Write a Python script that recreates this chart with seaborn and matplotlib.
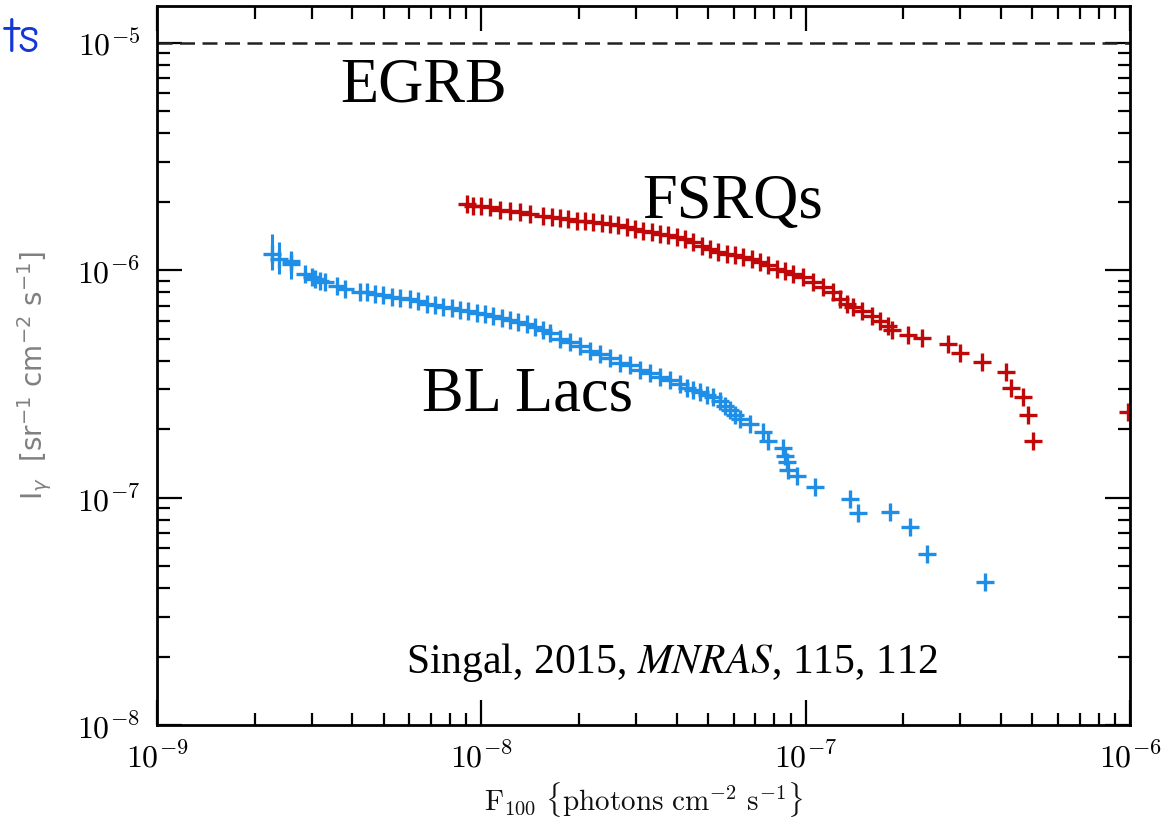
import numpy as np
import pandas as pd
import matplotlib
matplotlib.use("Agg")
import matplotlib.pyplot as plt
import seaborn as sns

# ---------------- data ----------------
bl_flux = [2.26e-9, 2.38e-9, 2.59e-9, 2.59e-9, 2.86e-9, 3.00e-9, 3.07e-9, 3.18e-9, 3.30e-9,
           3.59e-9, 3.80e-9, 4.23e-9, 4.44e-9, 4.70e-9, 4.98e-9, 5.30e-9, 5.61e-9, 6.03e-9,
           6.38e-9, 6.80e-9, 7.20e-9, 7.62e-9, 8.12e-9, 8.60e-9, 9.10e-9, 9.70e-9, 1.026e-8,
           1.087e-8, 1.158e-8, 1.226e-8, 1.298e-8, 1.383e-8, 1.464e-8, 1.549e-8, 1.629e-8,
           1.749e-8, 1.877e-8, 2.016e-8, 2.164e-8, 2.32e-8, 2.49e-8, 2.677e-8, 2.874e-8,
           3.084e-8, 3.31e-8, 3.556e-8, 3.82e-8, 4.10e-8, 4.31e-8, 4.50e-8, 4.72e-8, 4.97e-8,
           5.18e-8, 5.45e-8, 5.64e-8, 5.85e-8, 6.06e-8, 6.28e-8, 6.74e-8, 7.39e-8, 7.66e-8,
           8.51e-8, 8.64e-8, 8.76e-8, 8.82e-8, 9.41e-8, 1.069e-7, 1.371e-7, 1.451e-7, 1.82e-7,
           2.10e-7, 2.37e-7, 3.57e-7]
bl_int = [1.176e-6, 1.118e-6, 1.063e-6, 1.10e-6, 9.60e-7, 9.31e-7, 9.13e-7, 8.95e-7, 8.85e-7,
          8.50e-7, 8.25e-7, 8.00e-7, 8.00e-7, 7.84e-7, 7.76e-7, 7.60e-7, 7.53e-7, 7.45e-7,
          7.30e-7, 7.08e-7, 7.01e-7, 6.87e-7, 6.80e-7, 6.67e-7, 6.60e-7, 6.47e-7, 6.40e-7,
          6.27e-7, 6.15e-7, 6.02e-7, 5.90e-7, 5.78e-7, 5.61e-7, 5.44e-7, 5.28e-7,
          4.97e-7, 4.82e-7, 4.63e-7, 4.44e-7, 4.27e-7, 4.10e-7, 3.93e-7, 3.815e-7,
          3.66e-7, 3.55e-7, 3.41e-7, 3.28e-7, 3.15e-7, 3.05e-7, 2.99e-7, 2.93e-7, 2.84e-7,
          2.76e-7, 2.65e-7, 2.54e-7, 2.44e-7, 2.32e-7, 2.21e-7, 2.10e-7, 1.95e-7, 1.77e-7,
          1.66e-7, 1.52e-7, 1.44e-7, 1.33e-7, 1.24e-7, 1.118e-7, 9.9e-8, 8.59e-8, 8.68e-8,
          7.45e-8, 5.67e-8, 4.27e-8]
# vertical error bars on the faintest BL Lac bins
bl_err_flux = [2.26e-9, 2.38e-9, 2.59e-9]
bl_err_lo = [1.00e-6, 9.60e-7, 9.13e-7]
bl_err_hi = [1.442e-6, 1.328e-6, 1.213e-6]

fsrq_flux = [9.04e-9, 9.42e-9, 1.0e-8, 1.064e-8, 1.142e-8, 1.226e-8, 1.316e-8, 1.413e-8, 1.55e-8,
             1.652e-8, 1.749e-8, 1.85e-8, 1.973e-8, 2.09e-8, 2.21e-8, 2.36e-8, 2.49e-8, 2.64e-8,
             2.81e-8, 2.98e-8, 3.15e-8, 3.36e-8, 3.556e-8, 3.77e-8, 4.01e-8, 4.25e-8, 4.50e-8,
             4.79e-8, 5.07e-8, 5.37e-8, 5.72e-8, 6.06e-8, 6.41e-8, 6.84e-8, 7.23e-8, 7.66e-8,
             8.16e-8, 8.64e-8, 9.14e-8, 9.82e-8, 1.054e-7, 1.131e-7, 1.215e-7, 1.276e-7,
             1.342e-7, 1.40e-7, 1.493e-7, 1.602e-7, 1.695e-7, 1.795e-7, 1.847e-7, 2.07e-7,
             2.286e-7, 2.75e-7, 2.99e-7, 3.50e-7, 4.15e-7, 4.30e-7, 4.68e-7, 4.85e-7, 5.03e-7,
             9.87e-7]
fsrq_int = [1.954e-6, 1.914e-6, 1.914e-6, 1.894e-6, 1.837e-6, 1.82e-6, 1.80e-6, 1.765e-6, 1.73e-6,
            1.712e-6, 1.695e-6, 1.678e-6, 1.643e-6, 1.643e-6, 1.627e-6, 1.61e-6, 1.595e-6, 1.578e-6,
            1.547e-6, 1.517e-6, 1.485e-6, 1.47e-6, 1.441e-6, 1.426e-6, 1.398e-6, 1.37e-6, 1.328e-6,
            1.276e-6, 1.238e-6, 1.20e-6, 1.176e-6, 1.164e-6, 1.141e-6, 1.118e-6, 1.084e-6, 1.052e-6,
            1.01e-6, 9.9e-7, 9.6e-7, 9.31e-7, 8.85e-7, 8.41e-7, 8.0e-7, 7.45e-7,
            7.08e-7, 6.87e-7, 6.6e-7, 6.27e-7, 5.96e-7, 5.67e-7, 5.44e-7, 5.22e-7,
            5.02e-7, 4.72e-7, 4.35e-7, 3.97e-7, 3.56e-7, 3.05e-7, 2.76e-7, 2.30e-7, 1.78e-7,
            2.39e-7]

egrb_level = 1e-5
x_ticks = [1e-9, 1e-8, 1e-7, 1e-6]
x_ticklabels = [r"$10^{-9}$", r"$10^{-8}$", r"$10^{-7}$", r"$10^{-6}$"]
y_ticks = [1e-8, 1e-7, 1e-6, 1e-5]
y_ticklabels = [r"$10^{-8}$", r"$10^{-7}$", r"$10^{-6}$", r"$10^{-5}$"]

BLUE = "#1e8ee6"
RED = "#c00808"

# ---------------- plot ----------------
sns.set_style("ticks")
plt.rcParams["mathtext.fontset"] = "cm"
plt.rcParams["font.family"] = ["DejaVu Sans"]
plt.rcParams["text.color"] = "black"

fig = plt.figure(figsize=(11.66, 8.28), dpi=100)
ax = fig.add_axes([157/1166, 1-726/828, (1130-157)/1166, (726-7)/828])

df_bl = pd.DataFrame({"flux": bl_flux, "intensity": bl_int})
df_fs = pd.DataFrame({"flux": fsrq_flux, "intensity": fsrq_int})

ax.vlines(bl_err_flux, bl_err_lo, bl_err_hi, color=BLUE, lw=2.2)
sns.scatterplot(data=df_bl, x="flux", y="intensity", marker="+", s=160,
                color=BLUE, linewidth=2.4, ax=ax, legend=False)
sns.scatterplot(data=df_fs, x="flux", y="intensity", marker="+", s=160,
                color=RED, linewidth=2.4, ax=ax, legend=False)
ax.axhline(egrb_level, color="#222222", lw=1.8, ls=(0, (6, 3)))

ax.set_xscale("log")
ax.set_yscale("log")
ax.set_xlim(1e-9, 1e-6)
ax.set_ylim(1e-8, 1.455e-5)

ax.set_xticks(x_ticks)
ax.set_xticklabels(x_ticklabels)
ax.set_yticks(y_ticks)
ax.set_yticklabels(y_ticklabels)
ax.tick_params(which="both", direction="in", top=True, right=True, width=1.6,
               colors="black", labelcolor="black")
ax.tick_params(which="major", length=18, labelsize=23, pad=12)
ax.tick_params(which="minor", length=9)
for sp in ax.spines.values():
    sp.set_linewidth(2.0)
    sp.set_color("black")

ax.set_xlabel("")
ax.set_ylabel("")
fig.text(643/1166, 1-800/828, r"$\mathrm{F}_{100}\ \{\mathrm{photons\ cm}^{-2}\ \mathrm{s}^{-1}\}$",
         ha="center", va="center", fontsize=21, color="#111111")
yl = fig.text(35/1166, 1-375/828, r"I$_\gamma$  [sr$^{-1}$ cm$^{-2}$ s$^{-1}$]",
              ha="center", va="center", rotation=90, fontsize=20, color="#808080")
yl.set_math_fontfamily("dejavusans")

serif = ["Liberation Serif", "DejaVu Serif"]
ax.text(424/1166, 1-87/828, "EGRB", transform=fig.transFigure, ha="center", va="center",
        fontsize=45, family=serif, color="black")
ax.text(733/1166, 1-203/828, "FSRQs", transform=fig.transFigure, ha="center", va="center",
        fontsize=45, family=serif, color="black")
ax.text(527/1166, 1-396/828, "BL Lacs", transform=fig.transFigure, ha="center", va="center",
        fontsize=45, family=serif, color="black")
t = ax.text(672/1166, 1-663/828, "Singal, 2015, $\\mathit{MNRAS}$, 115, 112",
            transform=fig.transFigure, ha="center", va="center", fontsize=30,
            family=serif, color="black")
t.set_math_fontfamily("stix")

fig.text(40/1166, 1-40/828, "ts", ha="right", va="center", fontsize=36,
         color="#1438d8", family=["Comic Neue", "DejaVu Sans"])

fig.savefig("out.png", dpi=100)
